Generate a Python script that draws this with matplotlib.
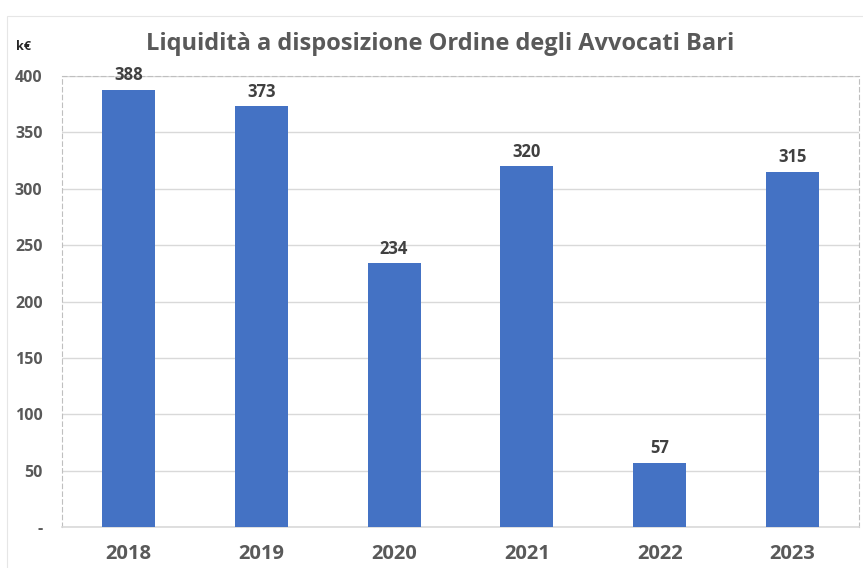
import matplotlib.pyplot as plt
from matplotlib.patches import Rectangle

years = ["2018", "2019", "2020", "2021", "2022", "2023"]
liquidita = [388, 373, 234, 320, 57, 315]
y_ticks = [0, 50, 100, 150, 200, 250, 300, 350, 400]
y_tick_labels = ["-", "50", "100", "150", "200", "250", "300", "350", "400"]

plt.rcParams["font.family"] = ["Open Sans", "DejaVu Sans"]

fig = plt.figure(figsize=(8.63, 5.68), dpi=100)
ax = fig.add_axes([62 / 863, 1 - 527 / 568, 797 / 863, 451 / 568])

# bordo esterno del grafico
fig.patches.append(Rectangle((7 / 863, -0.01), 1.0, 1 - 16 / 568 + 0.01,
                             transform=fig.transFigure, fill=False,
                             edgecolor="#e6e6e6", linewidth=0.8))

x = range(len(years))
bars = ax.bar(x, liquidita, width=0.4, color="#4472C4", zorder=3)

for b, v in zip(bars, liquidita):
    ax.text(b.get_x() + b.get_width() / 2, v + 5, str(v), ha="center", va="bottom",
            fontsize=12, fontweight="bold", color="#404040")

ax.set_xlim(-0.5, len(years) - 0.5)
ax.set_ylim(0, 400)
ax.set_yticks(y_ticks)
ax.set_yticklabels(y_tick_labels)
ax.set_xticks(list(x))
ax.set_xticklabels(years)
ax.tick_params(axis="x", length=0, pad=12, labelsize=14.5, labelcolor="#595959")
ax.tick_params(axis="y", length=0, pad=14, labelsize=11.5, labelcolor="#595959")
for lab in ax.get_xticklabels() + ax.get_yticklabels():
    lab.set_fontweight("bold")

ax.yaxis.grid(True, color="#d9d9d9", linewidth=1, zorder=0)
for side in ["left", "top", "right"]:
    ax.spines[side].set_linestyle((0, (4, 3)))
    ax.spines[side].set_color("#bfbfbf")
    ax.spines[side].set_linewidth(0.8)
ax.spines["bottom"].set_color("#d9d9d9")
ax.spines["bottom"].set_linewidth(1.2)

fig.text(440 / 863, 1 - 44 / 568, "Liquidità a disposizione Ordine degli Avvocati Bari",
         ha="center", va="center", fontsize=17, fontweight="bold", color="#595959")
fig.text(16 / 863, 1 - 47 / 568, "k€", ha="left", va="center",
         fontsize=9, fontweight="bold", color="#262626")

fig.savefig("out.png", dpi=100)
